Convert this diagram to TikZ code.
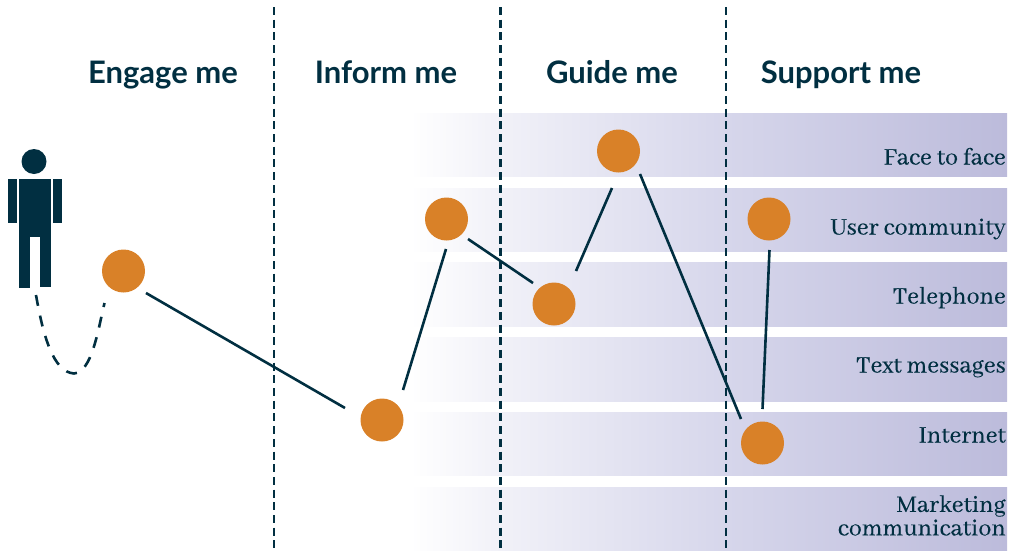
\documentclass[tikz,border=0pt]{standalone}
\usepackage{fontspec}
\setmainfont{Lato}
\newfontfamily\labelfont[FakeBold=0.25]{Abhaya Libre}
\usetikzlibrary{calc}
\definecolor{ink}{HTML}{012F41}
\definecolor{dot}{HTML}{D98128}
\definecolor{bandA}{HTML}{F1F1F8}
\definecolor{bandB}{HTML}{D6D6EB}
\definecolor{bandC}{HTML}{BCBBDB}
\tikzset{
  dot/.style={circle,fill=dot,minimum size=43pt,inner sep=0pt,draw=none},
  link/.style={draw=ink,line width=2.6pt},
  divider/.style={draw=ink,line width=2.6pt,dash pattern=on 8pt off 4.7pt},
  head/.style={font=\fontsize{31}{34}\selectfont\bfseries,text=ink,anchor=base,inner sep=0pt},
  chan/.style={font=\labelfont\fontsize{26}{23.5}\selectfont,text=ink,anchor=base east,inner sep=0pt,align=right},
  body/.style={fill=ink,draw=none}
}
\begin{document}
\begin{tikzpicture}[x=1pt,y=-1pt]
\useasboundingbox (0,0) rectangle (1011,552);
% bands
\foreach \t/\b in {113/176,188/251,262/326,337/401,412/475,487/550}{
  \path[left color=white,right color=bandA] (410,\t) rectangle (500.5,\b);
  \path[left color=bandA,right color=bandB] (500,\t) rectangle (726.5,\b);
  \path[left color=bandB,right color=bandC] (726,\t) rectangle (1007,\b);
}
% dividers
\coordinate (d1t) at (274,7); \coordinate (d1b) at (274,552);
\coordinate (d2t) at (500.5,7); \coordinate (d2b) at (500.5,552);
\coordinate (d3t) at (726,7); \coordinate (d3b) at (726,552);
\draw[divider] (d1t) -- (d1b);
\draw[divider] (d2t) -- (d2b);
\draw[divider] (d3t) -- (d3b);
% headings
\node[head] (h1) at (163,83) {Engage me};
\node[head] (h2) at (386,83) {Inform me};
\node[head] (h3) at (612,83) {Guide me};
\node[head] (h4) at (841,83) {Support me};
% channel labels
\node[chan] (l1) at (1006,164.5) {Face to face};
\node[chan] (l2) at (1006,234.5) {User community};
\node[chan] (l3) at (1006,303.5) {Telephone};
\node[chan] (l4) at (1006,372.5) {Text messages};
\node[chan] (l5) at (1006,442.5) {Internet};
\node[chan,anchor=east] (l6) at (1006,515.5) {Marketing\\communication};
% person
\fill[body] (34,161.5) circle (12.5);
\fill[body] (19,179) rectangle (51,237);
\fill[body] (19,237) rectangle (30,288);
\fill[body] (40,237) rectangle (51,287);
\fill[body] (8,179) rectangle (17,223);
\fill[body] (53,179) rectangle (62,223);
\coordinate (feet) at (36,295);
% dots
\node[dot] (a) at (123.5,271) {};
\node[dot] (b) at (382,420) {};
\node[dot] (c) at (446.5,219) {};
\node[dot] (d) at (554,304) {};
\node[dot] (e) at (618.5,151) {};
\node[dot] (f) at (769,219) {};
\node[dot] (g) at (762.5,443) {};
% connectors
\draw[ink,line width=2.6pt,dash pattern=on 11pt off 10pt] (feet) .. controls (43,335) and (53,372) .. (74,373.5) .. controls (92,372) and (98,330) .. ($(a)+(-19,32)$);
\draw[link] ($(a)+(22.5,22)$) -- ($(b)+(-37,-12)$);
\draw[link] ($(b)+(21,-30)$) -- ($(c)+(-0.5,30)$);
\draw[link] ($(c)+(21.5,20)$) -- ($(d)+(-21,-21)$);
\draw[link] ($(d)+(22,-33)$) -- ($(e)+(-6.5,37)$);
\draw[link] ($(e)+(21.5,23)$) -- ($(g)+(-21.5,-24)$);
\draw[link] ($(g)+(0,-34)$) -- ($(f)+(0.5,31)$);
\end{tikzpicture}
\end{document}
